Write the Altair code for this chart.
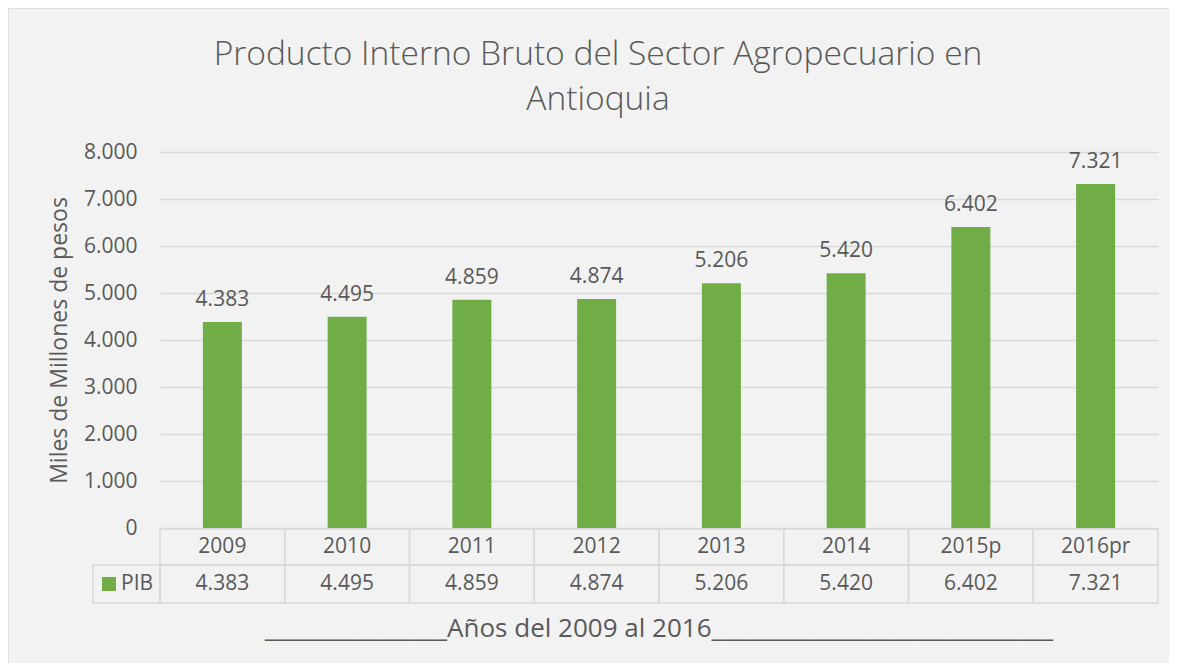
import altair as alt
import pandas as pd

categories = ["2009", "2010", "2011", "2012", "2013", "2014", "2015p", "2016pr"]
values = [4383, 4495, 4859, 4874, 5206, 5420, 6402, 7321]
y_ticks = [0, 1000, 2000, 3000, 4000, 5000, 6000, 7000, 8000]
series_name = "PIB"
title_lines = ["Producto Interno Bruto del Sector Agropecuario en", "Antioquia"]
y_title = "Miles de Millones de pesos"
x_caption = "________________Años del 2009 al 2016______________________________"

labels = [f"{v:,}".replace(",", ".") for v in values]
df = pd.DataFrame({"cat": categories, "value": values, "label": labels})
one = pd.DataFrame({"name": [series_name]})

FONT = "Open Sans"
TXT = "#595959"
GRID = "#d9d9d9"
GREEN = "#70ad47"
W, H = 998, 376
FS = 21

xenc = alt.X("cat:N", sort=categories, axis=None,
             scale=alt.Scale(paddingInner=0, paddingOuter=0))

base = alt.Chart(df)

bars = base.mark_bar(width=39, color=GREEN).encode(
    x=xenc,
    y=alt.Y("value:Q",
            scale=alt.Scale(domain=[0, 8000], nice=False),
            axis=alt.Axis(values=y_ticks, grid=True, gridColor=GRID, gridWidth=1.5,
                          domain=False, ticks=False, labelPadding=23,
                          labelExpr="replace(format(datum.value, ','), ',', '.')",
                          labelFont=FONT, labelFontSize=FS, labelColor=TXT,
                          title=y_title, titleFont=FONT, titleFontSize=23,
                          titleFontWeight="normal", titleColor=TXT, titlePadding=12)),
)

bar_labels = base.mark_text(baseline="bottom", dy=-12, font=FONT, fontSize=FS, color=TXT).encode(
    x=xenc, y="value:Q", text="label:N"
)

row1 = base.mark_rect(fillOpacity=0, stroke=GRID, strokeWidth=1.5).encode(
    x=xenc, y=alt.value(H + 1), y2=alt.value(H + 37)
)
row2 = base.mark_rect(fillOpacity=0, stroke=GRID, strokeWidth=1.5).encode(
    x=xenc, y=alt.value(H + 37), y2=alt.value(H + 75)
)
cat_text = base.mark_text(font=FONT, fontSize=FS, color=TXT, baseline="middle").encode(
    x=xenc, y=alt.value(H + 19), text="cat:N"
)
val_text = base.mark_text(font=FONT, fontSize=FS, color=TXT, baseline="middle").encode(
    x=xenc, y=alt.value(H + 56), text="label:N"
)

oc = alt.Chart(one)
legend_cell = oc.mark_rect(fillOpacity=0, stroke=GRID, strokeWidth=1.5).encode(
    x=alt.value(-67), x2=alt.value(0), y=alt.value(H + 37), y2=alt.value(H + 75)
)
legend_sq = oc.mark_rect(color=GREEN).encode(
    x=alt.value(-58), x2=alt.value(-44), y=alt.value(H + 49), y2=alt.value(H + 63)
)
legend_txt = oc.mark_text(font=FONT, fontSize=FS, color=TXT, align="left", baseline="middle").encode(
    x=alt.value(-39), y=alt.value(H + 56), text="name:N"
)
caption = oc.mark_text(font=FONT, fontSize=26, color=TXT, align="center", baseline="middle").encode(
    x=alt.value(W / 2), y=alt.value(H + 101), text=alt.value(x_caption)
)
title = oc.mark_text(font=FONT, fontSize=33.5, fontWeight=300, color=TXT, align="center",
                     baseline="middle", lineHeight=45).encode(
    x=alt.value(438), y=alt.value(-97), text=alt.value(title_lines)
)
border_top = oc.mark_rule(color=GRID, strokeWidth=1.5).encode(
    x=alt.value(-152), x2=alt.value(W + 11), y=alt.value(-144)
)
border_left = oc.mark_rule(color=GRID, strokeWidth=1.5).encode(
    x=alt.value(-152), y=alt.value(-144), y2=alt.value(H + 135)
)

chart = alt.layer(
    bars, bar_labels, row1, row2, cat_text, val_text,
    legend_cell, legend_sq, legend_txt, caption, title, border_top, border_left
).properties(
    width=W, height=H,
    autosize=alt.AutoSizeParams(type="none"),
    padding={"left": 152, "top": 144, "right": 11, "bottom": 135},
    background="#f2f2f2",
).configure_view(stroke=None)

chart.save("out.html", embed_options={"renderer": "svg", "actions": False})
